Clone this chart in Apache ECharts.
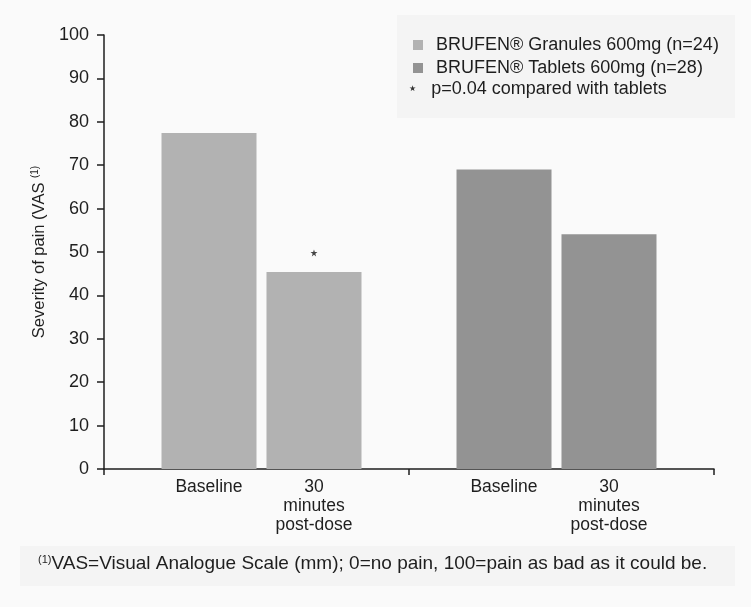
<!DOCTYPE html>
<html>
<head>
<meta charset="utf-8">
<script src="https://cdn.jsdelivr.net/npm/echarts@6/dist/echarts.min.js"></script>
<style>
  html, body { margin: 0; padding: 0; background: #fafafa; }
  #chart { width: 751px; height: 607px; }
</style>
</head>
<body>
<div id="chart"></div>
<script>
// ---- data ----
const groups = ['Granules', 'Tablets'];
const timepointLabels = ['Baseline', '30\nminutes\npost-dose'];
const baselineValues = [77.4, 69.0];
const postDoseValues = [45.4, 54.1];
const legendNames = ['BRUFEN® Granules 600mg (n=24)', 'BRUFEN® Tablets 600mg (n=28)'];
const significanceNote = 'p=0.04 compared with tablets';
const yMin = 0, yMax = 100, yStep = 10;
const yAxisTitle = 'Severity of pain (VAS ';
const footnoteText = 'VAS=Visual Analogue Scale (mm); 0=no pain, 100=pain as bad as it could be.';

// ---- styles ----
const groupColors = ['#b2b2b2', '#939393'];
const FONT = 'Liberation Sans';
const TXT = '#1e1e1e';
const AXIS = '#1e1e1e';

const chart = echarts.init(document.getElementById('chart'));

function barData(values) {
  return values.map((v, i) => ({ value: v, itemStyle: { color: groupColors[i] } }));
}

const barLabel = (idx) => ({
  show: true, position: 'bottom', distance: 9,
  formatter: () => timepointLabels[idx],
  fontFamily: FONT, fontSize: 17.5, color: TXT, lineHeight: 19, align: 'center'
});

const option = {
  backgroundColor: '#fafafa',
  animation: false,
  textStyle: { fontFamily: FONT, color: TXT },
  grid: [
    { left: 104, right: 37, top: 35, bottom: 138 },
    { left: 114, right: 47, top: 35, bottom: 138 }
  ],
  legend: {
    left: 408, top: 31,
    orient: 'vertical',
    icon: 'rect',
    itemWidth: 10, itemHeight: 10,
    itemGap: 5,
    data: legendNames,
    textStyle: { fontFamily: FONT, fontSize: 18, color: TXT, padding: [0, 0, 0, 8] },
    selectedMode: false
  },
  xAxis: [
    {
      type: 'category', gridIndex: 0,
      data: groups,
      axisLine: { lineStyle: { color: AXIS, width: 1.5 } },
      axisTick: { show: true, length: 6, lineStyle: { color: AXIS, width: 1.5 } },
      axisLabel: { show: false }
    },
    {
      type: 'category', gridIndex: 1,
      data: groups,
      show: false
    }
  ],
  yAxis: [
    {
      type: 'value', gridIndex: 0,
      min: yMin, max: yMax, interval: yStep,
      name: yAxisTitle + '{sup|(1)}',
      nameLocation: 'middle',
      nameGap: 44,
      nameTextStyle: {
        fontFamily: FONT, fontSize: 16.5, color: TXT,
        rich: { sup: { fontSize: 10, verticalAlign: 'top', padding: [0, 0, 8, 0], fontFamily: FONT, color: TXT } }
      },
      axisLine: { show: true, lineStyle: { color: AXIS, width: 1.5 } },
      axisTick: { show: true, length: 7, lineStyle: { color: AXIS, width: 1.5 } },
      axisLabel: { fontFamily: FONT, fontSize: 18, color: TXT, margin: 15 },
      splitLine: { show: false }
    },
    {
      type: 'value', gridIndex: 1,
      min: yMin, max: yMax, interval: yStep,
      show: false,
      splitLine: { show: false }
    }
  ],
  series: [
    {
      name: 'Baseline',
      type: 'bar', xAxisIndex: 1, yAxisIndex: 1,
      barWidth: 95,
      barGap: '10.5%',
      data: barData(baselineValues),
      label: barLabel(0)
    },
    {
      name: '30 minutes post-dose',
      type: 'bar', xAxisIndex: 1, yAxisIndex: 1,
      barWidth: 95,
      data: barData(postDoseValues),
      label: barLabel(1),
      markPoint: {
        symbol: 'path://M5,0 L6.2,3.6 L10,3.6 L6.9,5.8 L8.1,9.5 L5,7.2 L1.9,9.5 L3.1,5.8 L0,3.6 L3.8,3.6 Z',
        symbolSize: 7,
        symbolOffset: [0, -19],
        itemStyle: { color: '#444' },
        label: { show: false },
        data: [{ coord: [0, postDoseValues[0]] }]
      }
    },
    { name: legendNames[0], type: 'line', data: [], color: groupColors[0], itemStyle: { color: groupColors[0] } },
    { name: legendNames[1], type: 'line', data: [], color: groupColors[1], itemStyle: { color: groupColors[1] } }
  ],
  graphic: [
    {
      type: 'rect', left: 397, top: 15, z: -1,
      shape: { width: 338, height: 103 },
      style: { fill: '#f4f4f4' }
    },
    {
      type: 'text', left: 409, top: 80,
      style: {
        text: '{s|★}   ' + significanceNote,
        fontFamily: FONT, fontSize: 18, fill: TXT,
        rich: { s: { fontSize: 8, fill: '#333', fontFamily: 'DejaVu Sans' } }
      }
    },
    {
      type: 'rect', left: 20, top: 546, z: -1,
      shape: { width: 715, height: 40 },
      style: { fill: '#f4f4f4' }
    },
    {
      type: 'text', left: 38, top: 554,
      style: {
        text: '{sup|(1)}' + footnoteText,
        fontFamily: FONT, fontSize: 19, fill: TXT,
        rich: { sup: { fontSize: 11, verticalAlign: 'top', padding: [0, 0, 9, 0], fontFamily: FONT, fill: TXT } }
      }
    }
  ]
};

chart.setOption(option);
</script>
</body>
</html>
